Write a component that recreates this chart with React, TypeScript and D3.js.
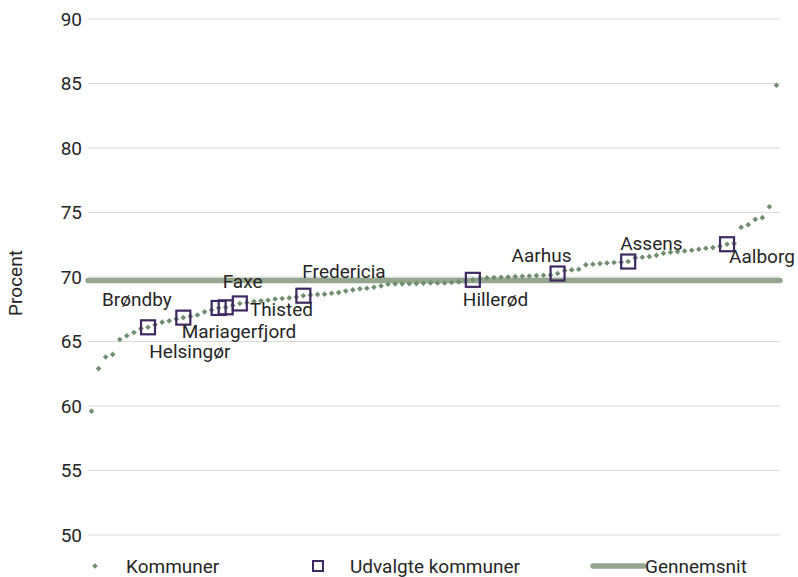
import React from "react";
import * as d3 from "d3";

// Sorted share (percent) for all 98 municipalities
const values: number[] = [
  59.6, 62.9, 63.8, 64.0, 65.15, 65.45, 65.7, 66.0, 66.1, 66.3,
  66.5, 66.6, 66.75, 66.85, 66.95, 67.05, 67.3, 67.45, 67.6, 67.65,
  67.8, 67.95, 68.0, 68.1, 68.15, 68.2, 68.3, 68.33, 68.38, 68.45,
  68.55, 68.6, 68.65, 68.67, 68.74, 68.79, 68.92, 69.0, 69.08, 69.13,
  69.21, 69.31, 69.44, 69.47, 69.47, 69.48, 69.49, 69.52, 69.53, 69.53,
  69.54, 69.57, 69.62, 69.7, 69.78, 69.88, 69.93, 69.96, 69.98, 70.0,
  70.03, 70.06, 70.08, 70.11, 70.13, 70.16, 70.27, 70.5, 70.55, 70.6,
  70.94, 70.99, 71.04, 71.09, 71.12, 71.15, 71.2, 71.5, 71.53, 71.58,
  71.68, 71.84, 71.92, 71.97, 72.02, 72.07, 72.15, 72.23, 72.28, 72.38,
  72.54, 72.59, 73.85, 74.06, 74.47, 74.6, 75.45, 84.87,
];
const ranks: number[] = values.map((_, i) => i + 1);

const selectedNames: string[] = [
  "Brøndby", "Helsingør", "Mariagerfjord", "Faxe", "Thisted",
  "Fredericia", "Hillerød", "Aarhus", "Assens", "Aalborg",
];
const selectedRanks: number[] = [9, 14, 19, 20, 22, 31, 55, 67, 77, 91];

const average = 69.72;
const yTicks: number[] = [50, 55, 60, 65, 70, 75, 80, 85, 90];

const yTitle = "Procent";
const legendLabels = ["Kommuner", "Udvalgte kommuner", "Gennemsnit"];

// label placement (offsets from the point, text-anchor start, baseline)
const labelOffsets: Record<string, [number, number]> = {
  "Brøndby": [-46, -21],
  "Helsingør": [-34, 40],
  "Mariagerfjord": [-37, 30],
  "Faxe": [-3, -19],
  "Thisted": [10, 13],
  "Fredericia": [-1, -18],
  "Hillerød": [-10, 26],
  "Aarhus": [-46, -12],
  "Assens": [-8, -12],
  "Aalborg": [2, 19],
};

const W = 798;
const H = 577;
const left = 88;
const right = 780;
const top = 19;
const bottom = 535;

const DOT = "#6f8f70";
const AVG = "#94a78e";
const SEL = "#3e2a60";
const TEXT = "#262626";
const GRID = "#d9d9d9";
const FONT = "Roboto, 'DejaVu Sans', sans-serif";
const FW = 400;

export default function App() {
  const x = d3.scaleBand<number>().domain(ranks).range([left, right]);
  const y = d3.scaleLinear().domain([50, 90]).range([bottom, top]);
  const cx = (r: number) => (x(r) as number) + x.bandwidth() / 2;
  const diamond = d3.symbol().type(d3.symbolDiamond2).size(20)() as string;
  const sq = 14;

  return (
    <svg
      width={W}
      height={H}
      style={{ position: "absolute", left: 0, top: 0, background: "#fff" }}
      fontFamily={FONT}
      fontWeight={FW}
    >
      {yTicks.map((t) => (
        <g key={t}>
          <line x1={left} x2={right} y1={y(t)} y2={y(t)} stroke={GRID} strokeWidth={1} />
          <text x={82} y={y(t)} dy="0.35em" textAnchor="end" fontSize={19} fill={TEXT}>
            {t}
          </text>
        </g>
      ))}
      <text
        transform={`translate(22,${(top + bottom) / 2 + 6}) rotate(-90)`}
        textAnchor="middle"
        fontSize={19}
        fill={TEXT}
      >
        {yTitle}
      </text>

      <line
        x1={left}
        x2={right}
        y1={y(average)}
        y2={y(average)}
        stroke={AVG}
        strokeWidth={5.5}
        strokeLinecap="round"
      />

      {values.map((v, i) => (
        <path key={i} d={diamond} transform={`translate(${cx(ranks[i])},${y(v)})`} fill={DOT} />
      ))}

      {selectedRanks.map((r, k) => {
        const v = values[r - 1];
        return (
          <rect
            key={k}
            x={cx(r) - sq / 2}
            y={y(v) - sq / 2}
            width={sq}
            height={sq}
            fill="none"
            stroke={SEL}
            strokeWidth={2.2}
          />
        );
      })}

      {selectedRanks.map((r, k) => {
        const v = values[r - 1];
        const name = selectedNames[k];
        const [dx, dy] = labelOffsets[name];
        return (
          <text key={name} x={cx(r) + dx} y={y(v) + dy} fontSize={19} fill={TEXT}>
            {name}
          </text>
        );
      })}

      <g transform="translate(0,566)">
        <path d={diamond} transform="translate(95,0)" fill={DOT} />
        <text x={126} y={0} dy="0.35em" fontSize={19} fill={TEXT}>
          {legendLabels[0]}
        </text>
        <rect x={313} y={-5} width={10} height={10} fill="none" stroke={SEL} strokeWidth={2} />
        <text x={350} y={0} dy="0.35em" fontSize={19} fill={TEXT}>
          {legendLabels[1]}
        </text>
        <line x1={593} x2={644} y1={0} y2={0} stroke={AVG} strokeWidth={5.5} strokeLinecap="round" />
        <text x={645} y={0} dy="0.35em" fontSize={19} fill={TEXT}>
          {legendLabels[2]}
        </text>
      </g>
    </svg>
  );
}
